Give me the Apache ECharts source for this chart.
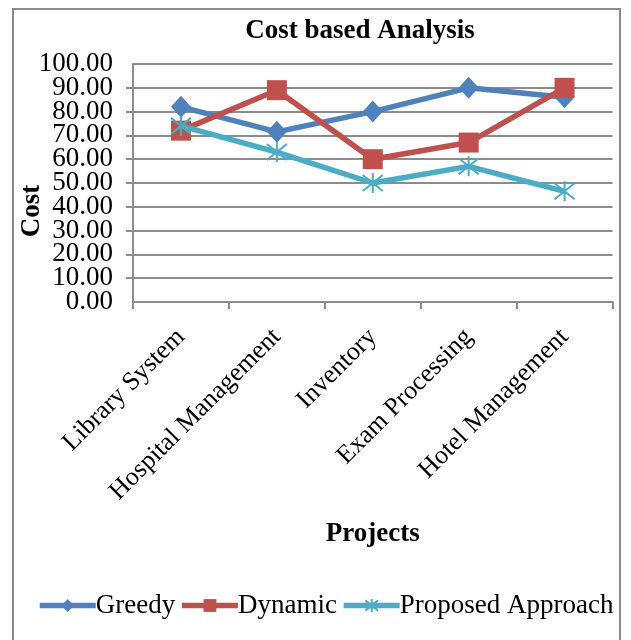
<!DOCTYPE html>
<html>
<head>
<meta charset="utf-8">
<script src="https://cdn.jsdelivr.net/npm/echarts@6/dist/echarts.min.js"></script>
<style>
  html, body { margin: 0; padding: 0; background: #fff; }
  #chart { width: 631px; height: 640px; }
</style>
</head>
<body>
<div id="chart"></div>
<script>
// Project categories and cost per approach
const categories = ['Library System', 'Hospital Management', 'Inventory', 'Exam Processing', 'Hotel Management'];
const greedy = [82, 71.5, 80, 90, 86];
const dynamic = [72, 89, 60, 67, 90];
const proposed = [74, 63, 50, 57, 46.5];
const yTicks = { min: 0, max: 100, interval: 10 };

const FONT = '"Liberation Serif", "Times New Roman", serif';
const FS = 27;
const GRID_COLOR = '#8c8c8c';
// vertical bar plus an X, drawn as strokes
const asterisk = 'path://M0,-10 L0,10 M-8,-8 L8,8 M-8,8 L8,-8';

const yLabelStyle = {
  margin: 20, fontFamily: FONT, fontSize: FS, color: '#000',
  formatter: v => v.toFixed(2)
};

const chart = echarts.init(document.getElementById('chart'), null, { renderer: 'canvas' });

chart.setOption({
  backgroundColor: '#fff',
  animation: false,
  textStyle: { fontFamily: FONT, color: '#000' },
  graphic: [
    {
      type: 'rect',
      shape: { x: 13, y: 9, width: 607, height: 640 },
      style: { fill: 'none', stroke: '#8a8a8a', lineWidth: 2 },
      silent: true,
      z: -1
    },
    {
      type: 'text',
      x: 32, y: 211,
      rotation: Math.PI / 2,
      style: {
        text: 'Cost',
        font: 'bold ' + FS + 'px ' + FONT,
        fill: '#000',
        align: 'center',
        verticalAlign: 'middle'
      },
      silent: true
    }
  ],
  title: {
    text: 'Cost based Analysis',
    left: 355, top: 13,
    textAlign: 'center',
    textStyle: { fontFamily: FONT, fontSize: FS, fontWeight: 'bold', color: '#000' }
  },
  legend: {
    left: 37, top: 592,
    width: 600,
    padding: 0,
    itemWidth: 56, itemHeight: 16, itemGap: 4,
    lineStyle: { width: 5.5 },
    textStyle: { fontFamily: FONT, fontSize: FS, color: '#000', padding: [0, 0, 0, -5] },
    data: ['Greedy', 'Dynamic', 'Proposed Approach']
  },
  grid: { left: 133, right: 18.5, top: 64, bottom: 338, containLabel: false },
  xAxis: {
    type: 'category',
    data: categories,
    boundaryGap: true,
    name: 'Projects',
    nameLocation: 'middle',
    nameGap: 219,
    nameTextStyle: { fontFamily: FONT, fontSize: FS, fontWeight: 'bold', color: '#000' },
    axisLine: { lineStyle: { color: GRID_COLOR, width: 2 } },
    axisTick: { show: true, alignWithLabel: false, length: 7, lineStyle: { color: GRID_COLOR, width: 2 } },
    axisLabel: { rotate: 45, interval: 0, margin: 31, fontFamily: FONT, fontSize: 26, color: '#000' }
  },
  yAxis: [
    {
      // main value axis: gridlines, ticks and the inner labels
      type: 'value', position: 'left',
      min: yTicks.min, max: yTicks.max, interval: yTicks.interval,
      axisLine: { show: true, lineStyle: { color: GRID_COLOR, width: 2 } },
      axisTick: { show: true, length: 7, lineStyle: { color: GRID_COLOR, width: 2 } },
      splitLine: { lineStyle: { color: GRID_COLOR, width: 2 } },
      axisLabel: Object.assign({ showMinLabel: false, showMaxLabel: false }, yLabelStyle)
    },
    {
      // same scale, carries only the end labels (0.00 and 100.00)
      type: 'value', position: 'left', offset: 0,
      min: yTicks.min, max: yTicks.max, interval: yTicks.max - yTicks.min,
      axisLine: { show: false },
      axisTick: { show: false },
      splitLine: { show: false },
      axisLabel: Object.assign({ showMinLabel: true, showMaxLabel: true }, yLabelStyle)
    }
  ],
  series: [
    {
      name: 'Greedy', type: 'line', data: greedy, yAxisIndex: 0,
      symbol: 'diamond', symbolSize: [20, 22],
      lineStyle: { color: '#4F81BD', width: 5.5 },
      itemStyle: { color: '#4F81BD' },
      z: 3
    },
    {
      name: 'Dynamic', type: 'line', data: dynamic, yAxisIndex: 0,
      symbol: 'rect', symbolSize: 20,
      lineStyle: { color: '#C0504D', width: 5.5 },
      itemStyle: { color: '#C0504D' },
      z: 4
    },
    {
      name: 'Proposed Approach', type: 'line', data: proposed, yAxisIndex: 0,
      symbol: asterisk, symbolSize: 20,
      lineStyle: { color: '#4BACC6', width: 5.5 },
      itemStyle: { color: '#4BACC6', borderColor: '#4BACC6', borderWidth: 2 },
      z: 5
    }
  ]
});
</script>
</body>
</html>
